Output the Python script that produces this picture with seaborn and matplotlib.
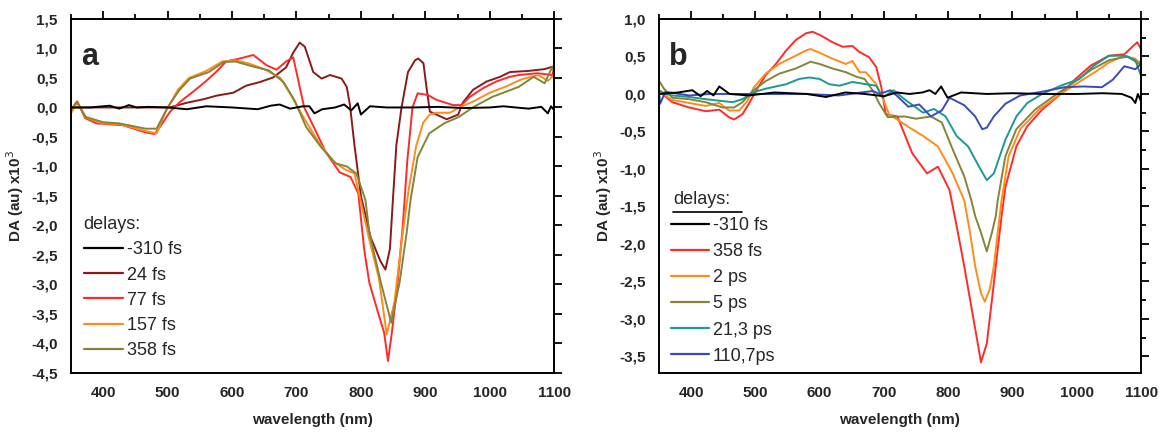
import numpy as np
import pandas as pd
import seaborn as sns
import matplotlib
matplotlib.use("Agg")
import matplotlib.pyplot as plt
from matplotlib.lines import Line2D
from matplotlib.ticker import MultipleLocator, FuncFormatter

# ---- panel a: delays in fs ----
labels_a = ["-310 fs", "24 fs", "77 fs", "157 fs", "358 fs"]
colors_a = ["#000000", "#8b1a1a", "#ff2a2a", "#ff8c1a", "#84843a"]

wl_a_m310 = [350, 380, 410, 425, 440, 452, 470, 500, 530, 560, 600, 640, 660, 674, 690, 710, 720, 728,
             740, 760, 774, 785, 795, 800, 814, 840, 880, 920, 960, 1000, 1021, 1040, 1060, 1080, 1090,
             1095, 1100]
da_a_m310 = [0, 0, 0.03, -0.02, 0.04, 0.0, 0.01, 0.0, -0.03, 0.02, 0.0, -0.03, 0.03, 0.05, -0.02, 0.02,
             0.02, -0.1, -0.03, 0.0, 0.05, -0.05, 0.07, -0.12, 0.02, 0.0, 0.0, 0.01, -0.01, 0.0, 0.02, 0.0,
             -0.02, 0.01, -0.1, 0.02, -0.05]

wl_a_24 = [350, 400, 450, 490, 503, 530, 556, 576, 602, 622, 643, 664, 684, 695, 705, 713, 726, 739, 752,
           770, 778, 783, 790, 800, 815, 830, 838, 845, 850, 855, 863, 873, 884, 889, 897, 902, 907, 917,
           933, 951, 958, 974, 995, 1016, 1031, 1060, 1085, 1100]
da_a_24 = [0, 0, 0, 0, 0, 0.08, 0.14, 0.2, 0.25, 0.37, 0.43, 0.51, 0.68, 0.93, 1.1, 1.03, 0.6, 0.49, 0.55,
           0.49, 0.35, 0.04, -0.64, -1.5, -2.2, -2.6, -2.75, -2.4, -1.5, -0.64, 0.0, 0.6, 0.8, 0.83, 0.75,
           0.32, -0.07, -0.12, -0.2, -0.12, 0.08, 0.3, 0.44, 0.52, 0.6, 0.62, 0.65, 0.7]

wl_a_77 = [350, 360, 372, 390, 430, 465, 480, 490, 504, 520, 540, 560, 576, 591, 612, 633, 653, 669, 684,
           695, 702, 712, 730, 745, 767, 784, 796, 805, 813, 825, 836, 842, 848, 857, 865, 872, 880, 888,
           904, 917, 943, 956, 969, 990, 1010, 1031, 1045, 1074, 1097, 1100]
da_a_77 = [-0.05, 0.1, -0.18, -0.27, -0.3, -0.42, -0.45, -0.3, -0.07, 0.1, 0.27, 0.45, 0.61, 0.78, 0.83,
           0.89, 0.72, 0.64, 0.78, 0.85, 0.5, 0.0, -0.4, -0.75, -1.1, -1.18, -1.46, -2.4, -2.97, -3.42,
           -3.82, -4.3, -3.82, -2.97, -2.0, -0.9, 0.0, 0.24, 0.21, 0.13, 0.04, 0.04, 0.18, 0.33, 0.44,
           0.52, 0.55, 0.58, 0.55, 0.68]

wl_a_157 = [350, 360, 373, 400, 425, 466, 483, 498, 516, 533, 560, 585, 605, 625, 650, 675, 692, 710, 735,
            758, 775, 790, 800, 812, 828, 840, 852, 864, 874, 886, 897, 907, 917, 938, 953, 974, 1000,
            1026, 1050, 1075, 1090, 1100]
da_a_157 = [-0.1, 0.08, -0.17, -0.27, -0.28, -0.4, -0.44, -0.05, 0.3, 0.5, 0.62, 0.78, 0.8, 0.75, 0.65,
            0.5, 0.2, -0.15, -0.6, -0.92, -1.05, -1.12, -1.6, -2.2, -2.9, -3.85, -3.3, -2.2, -1.4, -0.64,
            -0.25, -0.12, -0.09, -0.09, 0.0, 0.1, 0.25, 0.36, 0.48, 0.55, 0.45, 0.55]

wl_a_358 = [350, 359, 373, 400, 425, 466, 483, 500, 518, 535, 564, 587, 605, 634, 657, 680, 697, 715, 738,
            761, 778, 793, 807, 813, 831, 847, 860, 871, 877, 888, 906, 929, 952, 975, 1004, 1045, 1068,
            1085, 1097, 1100]
da_a_358 = [-0.05, 0.1, -0.16, -0.25, -0.27, -0.36, -0.36, 0.0, 0.29, 0.49, 0.6, 0.77, 0.78, 0.69, 0.63,
            0.43, 0.12, -0.33, -0.67, -0.95, -1.0, -1.12, -1.57, -2.12, -2.97, -3.65, -2.97, -2.12, -1.57,
            -0.84, -0.44, -0.27, -0.16, 0.01, 0.18, 0.35, 0.52, 0.41, 0.69, 0.6]

# ---- panel b: delays in fs / ps ----
labels_b = ["-310 fs", "358 fs", "2 ps", "5 ps", "21,3 ps", "110,7ps"]
colors_b = ["#000000", "#ff2a2a", "#ff8c1a", "#84843a", "#1a9a90", "#3a4cb8"]

wl_b_m310 = [350, 380, 402, 415, 425, 435, 444, 460, 490, 530, 580, 610, 640, 670, 700, 720, 740, 760,
             771, 780, 789, 799, 820, 860, 900, 950, 1000, 1040, 1070, 1085, 1091, 1095, 1100]
da_b_m310 = [0.0, 0.02, 0.05, -0.03, 0.04, -0.02, 0.1, 0.0, -0.02, 0.02, 0.0, -0.04, 0.02, 0.0, -0.03,
             0.02, 0.0, 0.02, 0.05, 0.0, 0.1, -0.05, 0.02, 0.0, 0.01, 0.0, 0.0, 0.01, 0.0, -0.05, -0.12,
             0.0, -0.1]

wl_b_358 = [350, 358, 371, 397, 423, 444, 459, 467, 480, 490, 503, 516, 532, 548, 563, 579, 589, 602, 620,
            636, 651, 662, 677, 688, 696, 703, 721, 744, 767, 784, 802, 814, 825, 836, 845, 851, 860, 868,
            877, 883, 889, 906, 923, 946, 975, 998, 1022, 1050, 1074, 1094, 1100]
da_b_358 = [0.04, -0.02, -0.11, -0.18, -0.23, -0.21, -0.31, -0.34, -0.27, -0.13, 0.07, 0.25, 0.4, 0.58,
            0.72, 0.81, 0.83, 0.78, 0.69, 0.63, 0.64, 0.56, 0.49, 0.36, 0.09, -0.27, -0.3, -0.79, -1.06,
            -0.97, -1.28, -1.8, -2.3, -2.84, -3.28, -3.58, -3.33, -2.75, -2.07, -1.63, -1.24, -0.7, -0.43,
            -0.21, 0.0, 0.2, 0.38, 0.51, 0.53, 0.69, 0.6]

wl_b_2 = [350, 371, 397, 423, 444, 459, 475, 488, 498, 516, 537, 558, 579, 586, 600, 620, 641, 651, 662,
          672, 688, 698, 708, 724, 740, 761, 784, 807, 825, 834, 842, 851, 857, 865, 871, 877, 883, 894,
          912, 941, 970, 998, 1028, 1050, 1074, 1091, 1100]
da_b_2 = [0.03, -0.08, -0.12, -0.16, -0.12, -0.22, -0.22, -0.09, 0.09, 0.27, 0.4, 0.49, 0.58, 0.6, 0.55,
          0.47, 0.4, 0.44, 0.29, 0.29, 0.13, -0.05, -0.27, -0.36, -0.45, -0.56, -0.7, -1.06, -1.42, -1.85,
          -2.3, -2.66, -2.77, -2.59, -2.3, -1.85, -1.42, -0.83, -0.47, -0.21, -0.03, 0.13, 0.29, 0.42,
          0.51, 0.47, 0.4]

wl_b_5 = [350, 358, 371, 397, 423, 449, 467, 480, 496, 516, 537, 563, 586, 600, 620, 641, 657, 670, 683,
          693, 706, 732, 750, 773, 790, 807, 825, 836, 842, 851, 860, 868, 874, 877, 889, 906, 935, 964,
          993, 1022, 1050, 1079, 1097, 1100]
da_b_5 = [0.18, 0.07, -0.05, -0.07, -0.11, -0.18, -0.18, -0.11, 0.04, 0.17, 0.27, 0.34, 0.43, 0.4, 0.34,
          0.29, 0.23, 0.2, 0.04, -0.13, -0.31, -0.3, -0.33, -0.3, -0.38, -0.74, -1.1, -1.42, -1.63, -1.85,
          -2.1, -1.85, -1.63, -1.42, -0.83, -0.47, -0.21, -0.03, 0.14, 0.32, 0.45, 0.5, 0.4, 0.45]

wl_b_21 = [350, 361, 371, 397, 423, 444, 465, 480, 496, 516, 548, 568, 584, 600, 615, 631, 651, 672, 688,
           698, 715, 732, 761, 778, 796, 813, 831, 848, 860, 871, 889, 906, 923, 946, 975, 1004, 1027,
           1050, 1074, 1091, 1100]
da_b_21 = [0.05, 0.0, -0.02, -0.04, -0.07, -0.09, -0.11, -0.07, 0.02, 0.07, 0.13, 0.2, 0.22, 0.2, 0.13,
           0.11, 0.16, 0.13, 0.11, -0.05, 0.05, -0.07, -0.25, -0.2, -0.3, -0.56, -0.7, -0.97, -1.15, -1.06,
           -0.61, -0.3, -0.12, 0.0, 0.11, 0.2, 0.38, 0.51, 0.51, 0.45, 0.24]

wl_b_110 = [350, 352, 360, 397, 430, 475, 520, 579, 630, 683, 693, 710, 721, 738, 755, 773, 790, 802, 825,
            842, 853, 860, 871, 889, 912, 946, 981, 1010, 1039, 1056, 1074, 1091, 1100]
da_b_110 = [0.04, -0.13, 0.03, -0.02, 0.0, 0.0, 0.0, 0.0, -0.02, 0.04, 0.0, 0.05, -0.03, -0.17, -0.14,
            -0.3, -0.22, -0.05, -0.15, -0.3, -0.47, -0.45, -0.3, -0.13, -0.02, 0.03, 0.09, 0.1, 0.09, 0.19,
            0.37, 0.33, 0.4]

series_a = [(wl_a_m310, da_a_m310), (wl_a_24, da_a_24), (wl_a_77, da_a_77),
            (wl_a_157, da_a_157), (wl_a_358, da_a_358)]
series_b = [(wl_b_m310, da_b_m310), (wl_b_358, da_b_358), (wl_b_2, da_b_2),
            (wl_b_5, da_b_5), (wl_b_21, da_b_21), (wl_b_110, da_b_110)]


def to_long(series, labels):
    frames = []
    for (wl, da), lab in zip(series, labels):
        frames.append(pd.DataFrame({"wl": wl, "da": da, "delay": lab}))
    return pd.concat(frames, ignore_index=True)


sns.set_style("white")
plt.rcParams["font.family"] = ["Liberation Sans", "DejaVu Sans"]

fig = plt.figure(figsize=(11.62, 4.32), dpi=100)
ax_a = fig.add_axes([0.061, 0.137, 0.416, 0.819])
ax_b = fig.add_axes([0.567, 0.137, 0.415, 0.819])

comma = FuncFormatter(lambda v, pos: f"{v:.1f}".replace(".", ","))


def style_axes(ax, ylim, ymajor, yminor):
    ax.set_xlim(350, 1100)
    ax.set_ylim(*ylim)
    ax.xaxis.set_major_locator(MultipleLocator(100))
    ax.xaxis.set_minor_locator(MultipleLocator(50))
    ax.yaxis.set_major_locator(MultipleLocator(ymajor))
    if yminor:
        ax.yaxis.set_minor_locator(MultipleLocator(yminor))
    ax.yaxis.set_major_formatter(comma)
    ax.tick_params(which="both", direction="out", top=True, right=True, labeltop=False,
                   labelright=False, width=1.3, color="black")
    ax.tick_params(which="major", length=6, labelsize=11)
    ax.tick_params(which="minor", length=3.5)
    for lab in ax.get_xticklabels() + ax.get_yticklabels():
        lab.set_fontweight("bold")
    for sp in ax.spines.values():
        sp.set_linewidth(1.4)
        sp.set_color("black")
    ax.set_xlabel("wavelength (nm)", fontsize=11, fontweight="bold", labelpad=9)
    ax.set_ylabel("DA (au) x10$^3$", fontsize=11, fontweight="bold", labelpad=4)


def draw(ax, series, labels, colors):
    df = to_long(series, labels)
    order = labels[1:] + labels[:1]  # black trace on top
    for lab in order:
        c = colors[labels.index(lab)]
        sns.lineplot(data=df[df["delay"] == lab], x="wl", y="da", color=c, lw=1.4,
                     sort=False, estimator=None, legend=False, ax=ax,
                     zorder=3 if lab == labels[0] else 2)
    handles = [Line2D([], [], color=c, lw=1.6) for c in colors]
    return handles


h_a = draw(ax_a, series_a, labels_a, colors_a)
style_axes(ax_a, (-4.5, 1.5), 0.5, None)
leg_a = ax_a.legend(h_a, labels_a, title="delays:", loc="upper left",
                    bbox_to_anchor=(0.0, 0.478), frameon=False, fontsize=13,
                    title_fontsize=13, handlelength=2.2, handletextpad=0.2,
                    labelspacing=0.45, borderaxespad=0.3, alignment="left")
ax_a.text(0.022, 0.935, "a", transform=ax_a.transAxes, fontsize=22, fontweight="bold",
          va="top", ha="left")

h_b = draw(ax_b, series_b, labels_b, colors_b)
style_axes(ax_b, (-3.72, 1.0), 0.5, 0.25)
leg_b = ax_b.legend(h_b, labels_b, loc="upper left", bbox_to_anchor=(0.0, 0.475),
                    frameon=False, fontsize=13, handlelength=2.1, handletextpad=0.2,
                    labelspacing=0.5, borderaxespad=0.3)
ax_b.text(0.03, 0.489, "delays:", transform=ax_b.transAxes, fontsize=13, va="center", ha="left")
ax_b.plot([0.03, 0.172], [0.455, 0.455], transform=ax_b.transAxes, color="black", lw=1.2,
          clip_on=False)
ax_b.text(0.022, 0.935, "b", transform=ax_b.transAxes, fontsize=22, fontweight="bold",
          va="top", ha="left")

fig.savefig("out.png", dpi=100)
